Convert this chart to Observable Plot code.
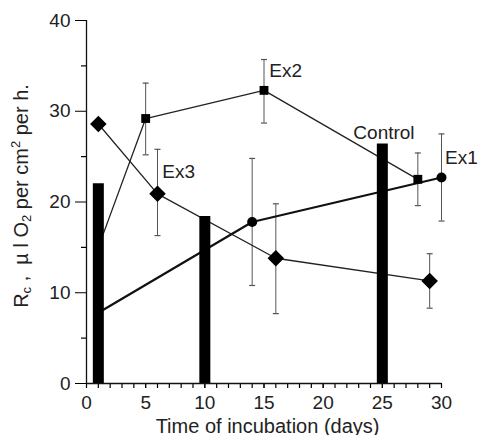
<!DOCTYPE html>
<html>
<head>
<meta charset="utf-8">
<script src="https://cdn.jsdelivr.net/npm/d3@7"></script>
<script src="https://cdn.jsdelivr.net/npm/@observablehq/plot@0.6"></script>
<style>
  body { margin: 0; background: #fff; }
  #chart { position: relative; width: 480px; height: 435px; }
  svg { font-family: "Liberation Sans", Arial, sans-serif; }
</style>
</head>
<body>
<div id="chart"></div>
<script>
// Control bars
const controlDays = [1, 10, 25];
const controlValues = [22, 18.4, 26.4];

// Ex1 (circles)
const ex1Days = [1, 14, 30];
const ex1Values = [7.8, 17.8, 22.7];
const ex1Low = [null, 10.8, 17.9];
const ex1High = [null, 24.8, 27.5];

// Ex2 (squares)
const ex2Days = [1, 5, 15, 28];
const ex2Values = [15, 29.2, 32.3, 22.5];
const ex2Low = [null, 25.2, 28.7, 19.6];
const ex2High = [null, 33.1, 35.7, 25.4];

// Ex3 (diamonds)
const ex3Days = [1, 6, 16, 29];
const ex3Values = [28.6, 20.9, 13.8, 11.3];
const ex3Low = [null, 16.3, 7.7, 8.3];
const ex3High = [null, 25.8, 19.8, 14.3];

const xMajorTicks = [0, 5, 10, 15, 20, 25, 30];
const xMinorTicks = d3.range(0, 31, 1);
const yMajorTicks = [0, 10, 20, 30, 40];
const yMinorTicks = [5, 15, 25, 35];

const seriesLabels = ["Ex3", "Ex2", "Control", "Ex1"];
const labelX = [6.4, 15.45, 22.55, 30.3];
const labelY = [23.3, 34.5, 27.6, 24.9];

const toRows = (days, vals, lo, hi) => days.map((d, i) => ({x: d, y: vals[i], lo: lo ? lo[i] : null, hi: hi ? hi[i] : null}));
const bars = controlDays.map((d, i) => ({x: d, y: controlValues[i]}));
const ex1 = toRows(ex1Days, ex1Values, ex1Low, ex1High);
const ex2 = toRows(ex2Days, ex2Values, ex2Low, ex2High);
const ex3 = toRows(ex3Days, ex3Values, ex3Low, ex3High);
const errs = [...ex1, ...ex2, ...ex3].filter(d => d.lo != null);
const labels = seriesLabels.map((s, i) => ({label: s, x: labelX[i], y: labelY[i]}));

const capSymbol = {
  draw(context, size) {
    const w = 3;
    context.moveTo(-w, 0);
    context.lineTo(w, 0);
  }
};

const errColor = "#555";
const blank = () => "";

const plot = Plot.plot({
  width: 480,
  height: 435,
  marginLeft: 86,
  marginRight: 39,
  marginTop: 20,
  marginBottom: 52,
  style: {fontFamily: "'Liberation Sans', Arial, sans-serif", background: "#fff"},
  x: {domain: [0, 30]},
  y: {domain: [0, 40]},
  marks: [
    // error bars
    Plot.ruleX(errs, {x: "x", y1: "lo", y2: "hi", stroke: errColor, strokeWidth: 1}),
    Plot.dot(errs, {x: "x", y: "lo", symbol: capSymbol, stroke: errColor, strokeWidth: 1.2}),
    Plot.dot(errs, {x: "x", y: "hi", symbol: capSymbol, stroke: errColor, strokeWidth: 1.2}),
    // lines
    Plot.line(ex2, {x: "x", y: "y", stroke: "#222", strokeWidth: 1.3}),
    Plot.line(ex3, {x: "x", y: "y", stroke: "#222", strokeWidth: 1.3}),
    Plot.line(ex1, {x: "x", y: "y", stroke: "#111", strokeWidth: 2.2}),
    // control bars
    Plot.ruleX(bars, {x: "x", y1: 0, y2: "y", stroke: "#000", strokeWidth: 11}),
    // markers
    Plot.dot(ex1.slice(1), {x: "x", y: "y", symbol: "circle", r: 5, fill: "#000"}),
    Plot.dot(ex2.slice(1), {x: "x", y: "y", symbol: "square", r: 5, fill: "#000"}),
    Plot.dot(ex3, {x: "x", y: "y", symbol: "diamond2", r: 6.5, fill: "#000", stroke: "#000"}),
    // series labels
    Plot.text(labels, {x: "x", y: "y", text: "label", textAnchor: "start", fontSize: 19, fill: "#222"}),
    // axes
    Plot.axisX(xMinorTicks, {tickSize: 5, tickFormat: blank, label: null, strokeWidth: 1.2}),
    Plot.axisX(xMajorTicks, {tickSize: 5, tickPadding: 7, fontSize: 19, fill: "#222", label: null}),
    Plot.axisY(yMinorTicks, {tickSize: 5, tickFormat: blank, label: null, strokeWidth: 1.2}),
    Plot.axisY(yMajorTicks, {tickSize: 11, tickPadding: 5, fontSize: 19, fill: "#222", label: null}),
    Plot.ruleX([0], {stroke: "#111", strokeWidth: 1.3}),
    Plot.ruleY([0], {stroke: "#111", strokeWidth: 1.3}),
    Plot.text(["Time of incubation (days)"], {x: 15.3, frameAnchor: "bottom", dy: 49, fontSize: 20, fill: "#222"})
  ]
});

document.getElementById("chart").appendChild(plot);

// y-axis label with sub/superscripts
const svg = d3.select(plot);
const t = svg.append("text")
  .attr("transform", "translate(28,196) rotate(-90)")
  .attr("text-anchor", "middle")
  .attr("font-size", 20)
  .attr("fill", "#222");
t.append("tspan").text("R");
t.append("tspan").attr("font-size", 13).attr("dy", 3).text("c");
t.append("tspan").attr("dy", -3).text(" ,  \u00b5 l O");
t.append("tspan").attr("font-size", 13).attr("dy", 3).text("2");
t.append("tspan").attr("dy", -3).text(" per cm");
t.append("tspan").attr("font-size", 13).attr("dy", -8).text("2");
t.append("tspan").attr("dy", 8).text(" per h.");
</script>
</body>
</html>
